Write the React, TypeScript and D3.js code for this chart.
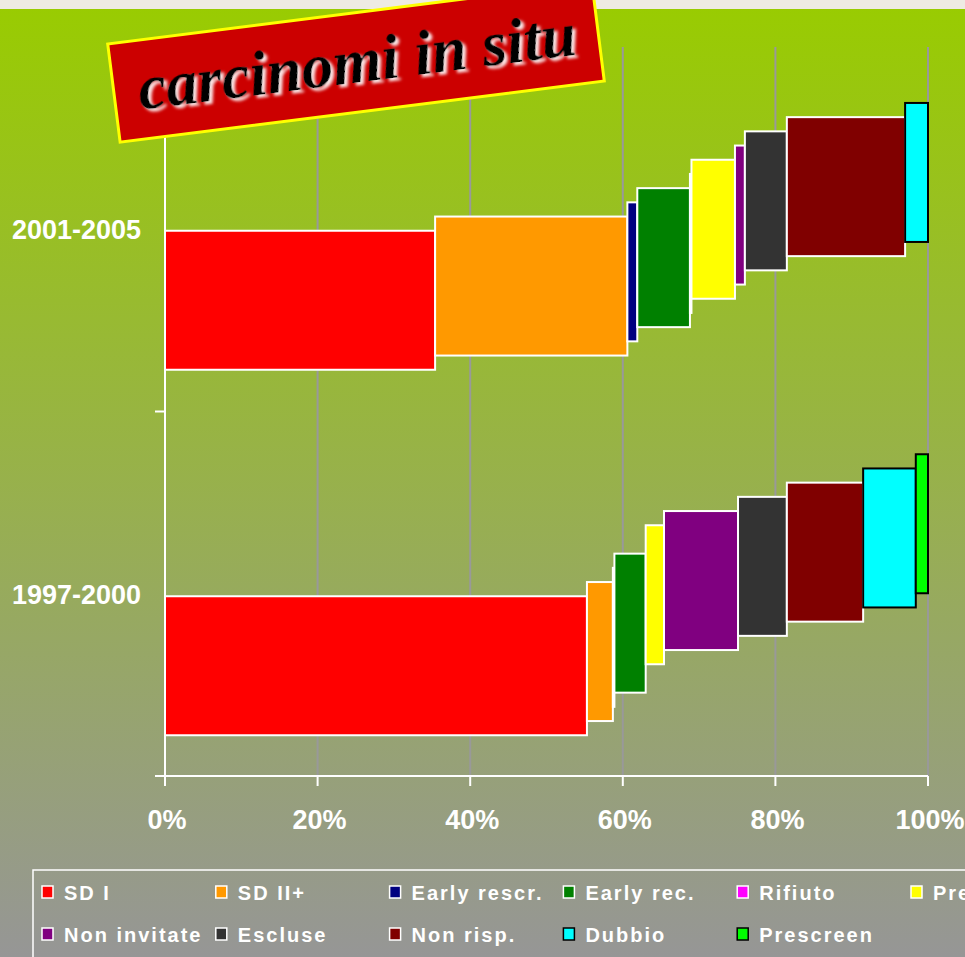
import React, { useRef, useEffect } from 'react';
import * as d3 from 'd3';

const categories = ['2001-2005', '1997-2000'];
const seriesNames = [
  'SD I', 'SD II+', 'Early rescr.', 'Early rec.', 'Rifiuto', 'Pregresso',
  'Non invitate', 'Escluse', 'Non risp.', 'Dubbio', 'Prescreen'
];
const values2001 = [35.4, 25.2, 1.3, 6.9, 0.2, 5.7, 1.3, 5.5, 15.5, 3.0, 0];
const values1997 = [55.3, 3.4, 0.2, 4.1, 0, 2.4, 9.7, 6.4, 10.0, 6.9, 1.6];
const xTicks = [0, 20, 40, 60, 80, 100];

const COLORS = [
  '#ff0000', '#ff9900', '#000080', '#008000', '#ff00ff', '#ffff00',
  '#800080', '#333333', '#800000', '#00ffff', '#00ff00'
];
const STROKES = [
  '#ffffff', '#ffffff', '#ffffff', '#ffffff', '#ffffff', '#ffffff',
  '#ffffff', '#ffffff', '#ffffff', '#000000', '#000000'
];

const W = 965;
const H = 957;
const FONT = '"Liberation Sans", Arial, sans-serif';

function App() {
  const svgRef = useRef<SVGSVGElement>(null);

  useEffect(() => {
    const svg = d3.select(svgRef.current);
    svg.selectAll('*').remove();

    const top = 47;
    const bottom = 776;
    const x = d3.scaleLinear().domain([0, 100]).range([165, 928]);
    const y = d3.scaleBand().domain(categories).range([top, bottom]).padding(0);

    const defs = svg.append('defs');
    const grad = defs.append('linearGradient')
      .attr('id', 'bg').attr('x1', 0).attr('y1', 0).attr('x2', 0).attr('y2', 1);
    grad.append('stop').attr('offset', '0%').attr('stop-color', '#99cc00');
    grad.append('stop').attr('offset', '100%').attr('stop-color', '#969696');

    // white soft shadow behind the title text
    const glow = defs.append('filter').attr('id', 'glow')
      .attr('x', '-10%').attr('y', '-30%').attr('width', '120%').attr('height', '160%');
    glow.append('feGaussianBlur').attr('in', 'SourceAlpha').attr('stdDeviation', 1.4).attr('result', 'b');
    glow.append('feOffset').attr('in', 'b').attr('dx', 2.5).attr('dy', 2.5).attr('result', 'o');
    glow.append('feFlood').attr('flood-color', '#ffffff').attr('flood-opacity', 0.9);
    glow.append('feComposite').attr('in2', 'o').attr('operator', 'in').attr('result', 's');
    const merge = glow.append('feMerge');
    merge.append('feMergeNode').attr('in', 's');
    merge.append('feMergeNode').attr('in', 'SourceGraphic');

    // Background
    svg.append('rect').attr('width', W).attr('height', H).attr('fill', 'url(#bg)');
    svg.append('rect').attr('width', W).attr('height', 9).attr('fill', '#eeebe3');

    // Gridlines
    svg.append('g').selectAll('line')
      .data(xTicks.filter(t => t > 0))
      .enter().append('line')
      .attr('x1', d => x(d)).attr('x2', d => x(d))
      .attr('y1', top).attr('y2', bottom)
      .attr('stroke', '#999999').attr('stroke-width', 2);

    // Cascaded stacked bars
    const barH = 139;
    const step = 14.2;
    const rows = [values2001, values1997];
    rows.forEach((vals, r) => {
      const cat = categories[r];
      const center = (y(cat) as number) + y.bandwidth() / 2 + r;
      let cum = 0;
      const segs = vals.map((v, i) => {
        const s = { i, x0: cum, x1: cum + v, v };
        cum += v;
        return s;
      }).filter(s => s.v > 0);

      svg.append('g').selectAll('rect')
        .data(segs)
        .enter().append('rect')
        .attr('x', d => x(d.x0))
        .attr('width', d => x(d.x1) - x(d.x0))
        .attr('y', d => center - barH / 2 - (d.i - 5) * step)
        .attr('height', barH)
        .attr('fill', d => COLORS[d.i])
        .attr('stroke', d => STROKES[d.i])
        .attr('stroke-width', 2);
    });

    // Axes
    const axisG = svg.append('g').attr('stroke', '#ffffff').attr('stroke-width', 2);
    axisG.append('line').attr('x1', 165).attr('x2', 165).attr('y1', top).attr('y2', bottom);
    axisG.append('line').attr('x1', 155).attr('x2', 928).attr('y1', bottom).attr('y2', bottom);
    axisG.selectAll('.yt')
      .data([top, top + y.bandwidth(), bottom])
      .enter().append('line')
      .attr('x1', 155).attr('x2', 165)
      .attr('y1', d => d).attr('y2', d => d);
    axisG.selectAll('.xt')
      .data(xTicks)
      .enter().append('line')
      .attr('x1', d => x(d)).attr('x2', d => x(d))
      .attr('y1', bottom).attr('y2', bottom + 10);

    svg.append('g').selectAll('text')
      .data(xTicks)
      .enter().append('text')
      .attr('x', d => x(d) + 2)
      .attr('y', 829)
      .attr('text-anchor', 'middle')
      .attr('font-family', FONT)
      .attr('font-weight', 'bold')
      .attr('font-size', 27)
      .attr('fill', '#ffffff')
      .text(d => `${d}%`);

    svg.append('g').selectAll('text')
      .data(categories)
      .enter().append('text')
      .attr('x', 141)
      .attr('y', d => (y(d) as number) + y.bandwidth() / 2 + 10)
      .attr('text-anchor', 'end')
      .attr('font-family', FONT)
      .attr('font-weight', 'bold')
      .attr('font-size', 27)
      .attr('fill', '#ffffff')
      .text(d => d);

    // Legend
    const legend = svg.append('g');
    legend.append('rect')
      .attr('x', 33).attr('y', 870).attr('width', 1000).attr('height', 120)
      .attr('fill', 'none').attr('stroke', '#ffffff').attr('stroke-width', 1.5);

    const items = legend.selectAll('.legend-item')
      .data(seriesNames)
      .enter().append('g')
      .attr('class', 'legend-item')
      .attr('transform', (d, i) => `translate(${42 + (i % 6) * 173.8}, ${886 + Math.floor(i / 6) * 42})`);

    items.append('rect')
      .attr('width', 11).attr('height', 12)
      .attr('fill', (d, i) => COLORS[i])
      .attr('stroke', (d, i) => STROKES[i])
      .attr('stroke-width', 1.5);

    items.append('text')
      .attr('x', 22).attr('y', 14)
      .attr('font-family', FONT)
      .attr('font-weight', 'bold')
      .attr('font-size', 20)
      .attr('letter-spacing', 2)
      .attr('fill', '#ffffff')
      .text(d => d);

    // Title banner
    const title = svg.append('g').attr('transform', 'translate(356,62.5) rotate(-7.2)');
    title.append('rect')
      .attr('x', -244).attr('y', -49.5).attr('width', 488).attr('height', 99)
      .attr('fill', '#cc0000').attr('stroke', '#ffff00').attr('stroke-width', 3);
    title.append('text')
      .attr('x', 1).attr('y', 20)
      .attr('text-anchor', 'middle')
      .attr('font-family', '"Liberation Serif", "Times New Roman", serif')
      .attr('font-weight', 'bold')
      .attr('font-style', 'italic')
      .attr('font-size', 63)
      .attr('fill', '#000000')
      .attr('filter', 'url(#glow)')
      .text('carcinomi in situ');
  }, []);

  return (
    <div style={{ position: 'absolute', left: 0, top: 0, width: W, height: H }}>
      <svg ref={svgRef} width={W} height={H} style={{ display: 'block' }}></svg>
    </div>
  );
}

export default App;
